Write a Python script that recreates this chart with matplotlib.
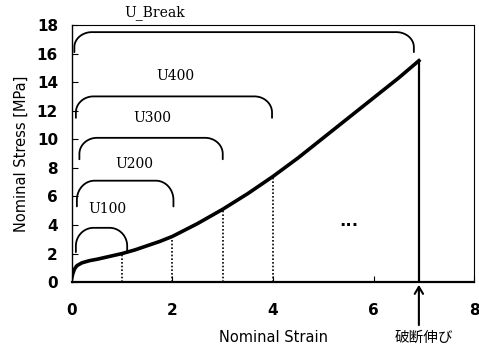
import numpy as np
import matplotlib.pyplot as plt
from matplotlib.patches import FancyArrowPatch

plt.rcParams['font.family'] = ['DejaVu Sans', 'Noto Sans CJK JP']

# stress-strain curve
strain = [0, 0.02, 0.05, 0.1, 0.2, 0.35, 0.5, 0.75, 1.0, 1.25, 1.5, 1.75, 2.0,
          2.5, 3.0, 3.5, 4.0, 4.5, 5.0, 5.5, 6.0, 6.5, 6.9]
stress = [0.3, 0.6, 0.9, 1.15, 1.35, 1.5, 1.6, 1.8, 2.0, 2.25, 2.55, 2.85, 3.2,
          4.1, 5.1, 6.2, 7.4, 8.7, 10.1, 11.5, 12.9, 14.3, 15.5]

break_strain = 6.9
marks = [1, 2, 3, 4]

# brackets: name, x start, x end, top, end level, label x, label y
br_names = ['U100', 'U200', 'U300', 'U400', 'U_Break']
br_x0 = [0.08, 0.1, 0.15, 0.08, 0.05]
br_x1 = [1.1, 2.02, 3.0, 3.98, 6.8]
br_top = [3.8, 7.1, 10.1, 13.0, 17.5]
br_end = [2.1, 5.3, 8.6, 11.5, 16.1]
br_lx = [0.7, 1.25, 1.6, 2.05, 1.65]
br_ly = [5.1, 8.3, 11.5, 14.4, 18.85]


def bracket(ax, x0, x1, top, end):
    r = 0.35
    ry = (top - end) * 0.75
    t = np.linspace(0, np.pi / 2, 30)
    xl = x0 + r - r * np.cos(t)
    yl = end + (top - end - ry) + ry * np.sin(t)
    xr = x1 - r + r * np.cos(t[::-1])
    yr = end + (top - end - ry) + ry * np.sin(t[::-1])
    xs = np.concatenate([[x0], xl, xr, [x1]])
    ys = np.concatenate([[end], yl, yr, [end]])
    ax.plot(xs, ys, color='black', lw=1.3, solid_capstyle='round')


fig = plt.figure(figsize=(4.79, 3.47), dpi=100)
ax = fig.add_axes([0.150, 0.187, 0.840, 0.741])

ax.plot(strain, stress, color='black', lw=2.6)
ax.plot([break_strain, break_strain], [0, stress[-1]], color='black', lw=1.6)

for m in marks:
    ax.plot([m, m], [0, np.interp(m, strain, stress)], color='black',
            lw=1.2, linestyle=(0, (1, 1.2)))

for name, x0, x1, top, end, lx, ly in zip(br_names, br_x0, br_x1, br_top,
                                          br_end, br_lx, br_ly):
    bracket(ax, x0, x1, top, end)
    ax.text(lx, ly, name, ha='center', va='center', fontsize=10,
            family='DejaVu Serif', clip_on=False)

ax.text(5.5, 4.3, '...', ha='center', va='center', fontsize=12,
        fontweight='bold')

ax.set_xlim(0, 8)
ax.set_ylim(0, 18)
ax.set_xticks([0, 2, 4, 6, 8])
ax.set_yticks(range(0, 19, 2))
ax.tick_params(direction='in', labelsize=11, length=4)
ax.tick_params(axis='x', pad=15)
ax.tick_params(axis='y', pad=10)
for lab in ax.get_xticklabels() + ax.get_yticklabels():
    lab.set_fontweight('bold')
for side in ['top', 'right']:
    ax.spines[side].set_linewidth(0.8)
ax.spines['left'].set_linewidth(1.0)
ax.spines['bottom'].set_linewidth(1.6)

ax.set_xlabel('Nominal Strain', fontsize=10.5, labelpad=9)
ax.set_ylabel('Nominal Stress [MPa]', fontsize=10.5, labelpad=6)

arrow = FancyArrowPatch((break_strain, -3.2), (break_strain, 0),
                        arrowstyle='->,head_length=5,head_width=3',
                        color='black', lw=1.5, clip_on=False,
                        mutation_scale=1)
ax.add_patch(arrow)
ax.text(break_strain + 0.1, -3.9, '破断伸び', ha='center', va='center',
        fontsize=10.5, family=['Noto Sans CJK JP'], clip_on=False)

fig.savefig('out.png', dpi=100)
